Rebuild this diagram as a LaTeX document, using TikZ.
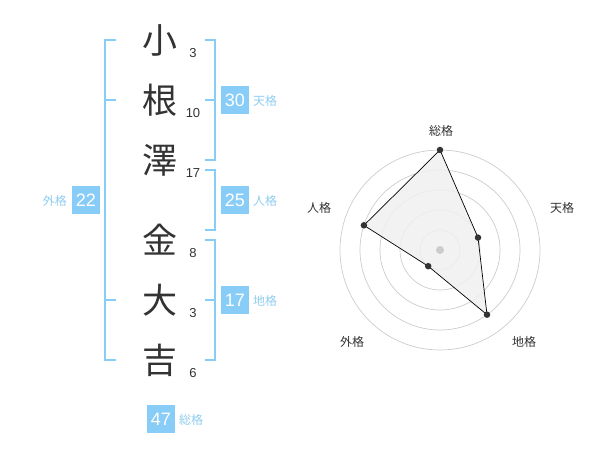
\documentclass[tikz,border=0pt]{standalone}
\usepackage{fontspec}
\setmainfont{Liberation Sans}
\newfontfamily\cjk{Noto Sans CJK JP}
\definecolor{bl}{HTML}{88CCF8}
\definecolor{bltxt}{HTML}{90CCF0}
\definecolor{dk}{HTML}{333333}
\definecolor{gr}{HTML}{CCCCCC}
\begin{document}
\begin{tikzpicture}[x=1pt,y=-1pt,
  kanji/.style={font=\cjk\fontsize{35}{35}\selectfont,text=dk,inner sep=0pt},
  strk/.style={font=\fontsize{13}{13}\selectfont,text=dk,inner sep=0pt},
  numbox/.style={fill=bl,text=white,font=\fontsize{18}{18}\selectfont,minimum width=28pt,minimum height=28pt,inner sep=0pt},
  lbl/.style={font=\cjk\fontsize{12}{12}\selectfont,text=bltxt,inner sep=0pt},
  brk/.style={draw=bl,line width=2pt},
  rlbl/.style={font=\cjk\fontsize{12}{12}\selectfont,text=dk,inner sep=0pt},
  ring/.style={draw=gr,line width=0.7pt},
  pt/.style={circle,fill=dk,inner sep=0pt,minimum size=6.5pt}]
\useasboundingbox (0,0) rectangle (600,470);
% kanji
\node[kanji] (k1) at (160,40) {小};
\node[kanji] (k2) at (160,100) {根};
\node[kanji] (k3) at (160,160) {澤};
\node[kanji] (k4) at (160,240) {金};
\node[kanji] (k5) at (160,300) {大};
\node[kanji] (k6) at (160,360) {吉};
% stroke counts
\node[strk] (s1) at (193,53) {3};
\node[strk] (s2) at (193,113) {10};
\node[strk] (s3) at (193,173) {17};
\node[strk] (s4) at (193,253) {8};
\node[strk] (s5) at (193,313) {3};
\node[strk] (s6) at (193,373) {6};
% left bracket (外格)
\draw[brk] (116,40) -- (105,40) -- (105,360) -- (116,360);
\draw[brk] (105,100) -- (116,100);
\draw[brk] (105,300) -- (116,300);
% right brackets
\draw[brk] (205,40) -- (215,40) -- (215,160) -- (205,160);
\draw[brk] (215,100) -- (205,100);
\draw[brk] (205,170) -- (215,170) -- (215,230) -- (205,230);
\draw[brk] (205,240) -- (215,240) -- (215,360) -- (205,360);
\draw[brk] (215,300) -- (205,300);
% boxes
\node[numbox] (b30) at (235,100) {30};
\node[lbl,anchor=west] (l30) at (253,101) {天格};
\node[numbox] (b25) at (235,200) {25};
\node[lbl,anchor=west] (l25) at (253,201) {人格};
\node[numbox] (b17) at (235,300) {17};
\node[lbl,anchor=west] (l17) at (253,301) {地格};
\node[numbox] (b22) at (86,200) {22};
\node[lbl,anchor=east] (l22) at (67,201) {外格};
\node[numbox] (b47) at (161,419) {47};
\node[lbl,anchor=west] (l47) at (179,420) {総格};
% radar
\coordinate (c) at (440,250);
\foreach \r in {20,40,60,80,100} \draw[ring] (c) circle (\r);
\coordinate (p1) at (440,150);
\coordinate (p2) at (478.0,237.6);
\coordinate (p3) at (487.0,314.7);
\coordinate (p4) at (428.2,266.2);
\coordinate (p5) at (363.9,225.3);
\draw[fill=black!6,fill opacity=0.85,draw=black,line width=0.7pt] (p1) -- (p2) -- (p3) -- (p4) -- (p5) -- cycle;
\fill[gr] (c) circle (4);
\foreach \i in {1,...,5} \node[pt] (d\i) at (p\i) {};
\node[rlbl] (r1) at (441,131) {総格};
\node[rlbl] (r2) at (562,208) {天格};
\node[rlbl] (r3) at (524,342) {地格};
\node[rlbl] (r4) at (352,342) {外格};
\node[rlbl] (r5) at (319,208) {人格};
\end{tikzpicture}
\end{document}
